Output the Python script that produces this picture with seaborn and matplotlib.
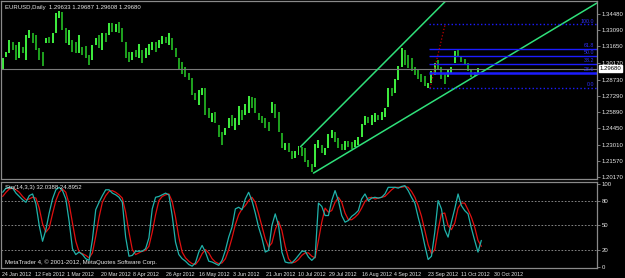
import numpy as np
import pandas as pd
import matplotlib
matplotlib.use("Agg")
import matplotlib.pyplot as plt
import seaborn as sns

# ---------------- data ----------------
opens = [1.2956, 1.3071, 1.3106, 1.3202, 1.3176, 1.3062, 1.3158, 1.3044, 1.3237, 1.3281,
         1.3264, 1.3150, 1.3114, 1.3193, 1.3246, 1.3193, 1.3281, 1.3413, 1.3466, 1.3325,
         1.3176, 1.3220, 1.3202, 1.3106, 1.3158, 1.3167, 1.3088, 1.3044, 1.3176, 1.3264,
         1.3132, 1.3281, 1.3264, 1.3369, 1.3290, 1.3378, 1.3325, 1.3202, 1.3114, 1.3044,
         1.3132, 1.3062, 1.3132, 1.3062, 1.3088, 1.3132, 1.3202, 1.3150, 1.3185, 1.3246,
         1.3176, 1.3237, 1.3150, 1.3062, 1.3027, 1.2983, 1.2930, 1.2886, 1.2754, 1.2649,
         1.2737, 1.2798, 1.2623, 1.2500, 1.2588, 1.2474, 1.2412, 1.2386, 1.2447, 1.2561,
         1.2430, 1.2474, 1.2605, 1.2561, 1.2579, 1.2719, 1.2711, 1.2579, 1.2553, 1.2535,
         1.2500, 1.2579, 1.2658, 1.2588, 1.2403, 1.2254, 1.2315, 1.2245, 1.2184, 1.2210,
         1.2280, 1.2271, 1.2166, 1.2131, 1.2105, 1.2271, 1.2298, 1.2210, 1.2271, 1.2359,
         1.2412, 1.2359, 1.2307, 1.2254, 1.2333, 1.2324, 1.2280, 1.2298, 1.2368, 1.2474,
         1.2544, 1.2474, 1.2500, 1.2561, 1.2517, 1.2544, 1.2632, 1.2798, 1.2754, 1.2869,
         1.2983, 1.3132, 1.3088, 1.3062, 1.2983, 1.2956, 1.2921, 1.2904, 1.2798, 1.2842,
         1.2912, 1.3044, 1.2983, 1.2930, 1.2895, 1.2930, 1.3018, 1.3132, 1.3071, 1.3053,
         1.3018, 1.2956, 1.2939, 1.2912, 1.2963]
closes = [1.3062, 1.3114, 1.3220, 1.3132, 1.3044, 1.3202, 1.3106, 1.3264, 1.3308, 1.3193,
          1.3132, 1.3044, 1.2992, 1.3237, 1.3193, 1.3281, 1.3457, 1.3474, 1.3308, 1.3193,
          1.3308, 1.3114, 1.3106, 1.3264, 1.3088, 1.3062, 1.3000, 1.3176, 1.3237, 1.3150,
          1.3281, 1.3202, 1.3369, 1.3290, 1.3360, 1.3281, 1.3202, 1.3062, 1.3027, 1.3114,
          1.3071, 1.3185, 1.3018, 1.3150, 1.3185, 1.3202, 1.3114, 1.3220, 1.3255, 1.3193,
          1.3281, 1.3132, 1.3071, 1.2956, 1.2921, 1.2895, 1.2869, 1.2737, 1.2693, 1.2781,
          1.2798, 1.2561, 1.2535, 1.2579, 1.2491, 1.2368, 1.2298, 1.2447, 1.2535, 1.2465,
          1.2535, 1.2640, 1.2517, 1.2658, 1.2728, 1.2623, 1.2579, 1.2517, 1.2491, 1.2447,
          1.2421, 1.2675, 1.2535, 1.2412, 1.2271, 1.2315, 1.2236, 1.2175, 1.2245, 1.2289,
          1.2201, 1.2149, 1.2105, 1.2061, 1.2307, 1.2342, 1.2228, 1.2271, 1.2394, 1.2430,
          1.2324, 1.2271, 1.2254, 1.2333, 1.2280, 1.2263, 1.2342, 1.2368, 1.2482, 1.2553,
          1.2491, 1.2561, 1.2579, 1.2517, 1.2588, 1.2623, 1.2798, 1.2728, 1.2877, 1.2992,
          1.3150, 1.3000, 1.2974, 1.2948, 1.2912, 1.2877, 1.2851, 1.2816, 1.2842, 1.2948,
          1.3018, 1.2956, 1.2877, 1.2833, 1.2965, 1.2983, 1.3123, 1.3071, 1.3027, 1.3009,
          1.2948, 1.2895, 1.2904, 1.2974, 1.2968]

sto_main = [90, 95, 96, 95, 89, 85, 81, 78, 86, 88, 76, 50, 31, 45, 65, 82, 93, 96, 92, 82,
            55, 22, 15, 18, 15, 10, 8, 33, 69, 78, 86, 93, 93, 89, 87, 84, 78, 36, 13, 14,
            19, 19, 19, 22, 35, 70, 84, 85, 87, 89, 87, 62, 30, 15, 10, 7, 3, 1, 5, 18,
            26, 18, 7, 6, 4, 2, 8, 20, 36, 48, 70, 72, 69, 82, 90, 80, 65, 48, 35, 18,
            20, 50, 64, 50, 18, 6, 5, 5, 9, 14, 19, 19, 12, 8, 12, 77, 73, 62, 62, 80,
            92, 80, 62, 54, 56, 61, 64, 68, 82, 88, 80, 83, 84, 83, 84, 88, 96, 96, 96, 95,
            97, 98, 92, 84, 77, 60, 45, 26, 9, 13, 42, 80, 70, 45, 36, 54, 70, 88, 74, 68,
            64, 47, 32, 18, 32.04]
sto_signal = [85, 90, 94, 95, 93, 90, 85, 81, 82, 84, 83, 71, 52, 42, 47, 64, 80, 90, 94, 90,
              76, 53, 31, 18, 16, 14, 11, 17, 37, 60, 78, 86, 91, 92, 90, 87, 83, 66, 42, 21,
              15, 17, 19, 20, 25, 42, 63, 80, 85, 87, 88, 79, 60, 36, 18, 11, 7, 4, 3, 8,
              16, 21, 17, 10, 6, 4, 5, 10, 21, 35, 51, 63, 70, 74, 80, 84, 78, 64, 49, 34,
              24, 29, 45, 55, 44, 25, 10, 5, 6, 9, 14, 17, 17, 13, 11, 32, 54, 71, 66, 68,
              78, 84, 78, 65, 57, 57, 60, 64, 71, 79, 83, 84, 82, 83, 84, 85, 89, 93, 96, 96,
              96, 97, 96, 91, 84, 74, 61, 44, 27, 16, 21, 45, 64, 65, 50, 45, 53, 71, 77, 77,
              69, 60, 48, 32, 24.90]

price_ticks = [1.34480, 1.33090, 1.31650, 1.30170, 1.28730, 1.27290,
               1.25890, 1.24450, 1.23010, 1.21570, 1.20170]
sto_ticks = [100, 80, 50, 20, 0]
sto_levels = [80, 50, 20]
date_labels = ["24 Jan 2012", "12 Feb 2012", "1 Mar 2012", "20 Mar 2012", "8 Apr 2012",
               "26 Apr 2012", "16 May 2012", "3 Jun 2012", "21 Jun 2012", "10 Jul 2012",
               "29 Jul 2012", "16 Aug 2012", "4 Sep 2012", "23 Sep 2012", "11 Oct 2012",
               "30 Oct 2012"]
date_pos = [-0.2, 9.7, 19.3, 29.5, 39.1, 49.0, 59.0, 69.2, 79.1, 88.7,
            98.3, 108.2, 117.8, 128.0, 137.9, 147.8]

# drawing objects (anchor points in bar index / price)
lower_trend_x = [93.5, 180.3]
lower_trend_p = [1.2052, 1.3571]
upper_trend_x = [89.6, 133.6]
upper_trend_p = [1.2283, 1.3571]
fib_start = 128.3
fib_diag_x = [128.6, 133.1]
fib_diag_p = [1.2798, 1.3358]
fib_levels = [0.0, 23.6, 38.2, 50.0, 61.8, 100.0]
fib_prices = [1.2801, 1.2932, 1.3013, 1.3079, 1.3144, 1.3358]
last_price = 1.29680

# ---------------- style ----------------
sns.set_theme(style="dark", rc={"axes.facecolor": "black", "figure.facecolor": "black"})
plt.rcParams["font.family"] = ["Liberation Sans", "DejaVu Sans"]

W, H = 625, 278
fig = plt.figure(figsize=(W / 100, H / 100), dpi=100)
left = 1 / W
right_edge = 597 / W
ax = fig.add_axes([left, 1 - 179 / H, right_edge - left, 178 / H])
ax2 = fig.add_axes([left, 1 - 268 / H, right_edge - left, 86 / H])

xlim = (-0.5, 178.8)
grey = "#8a8a8a"
txt = "#e8e8e8"
fs = 4.3

n = len(opens)
idx = np.arange(n)
o = np.array(opens)
c = np.array(closes)
up = c >= o
col_up = "#3de83d"
col_dn = "#1e9e1e"
bottoms = np.minimum(o, c)
heights = np.maximum(np.abs(c - o), 0.0006)
ax.bar(idx[up], heights[up], bottom=bottoms[up], width=0.6, color=col_up, linewidth=0)
ax.bar(idx[~up], heights[~up], bottom=bottoms[~up], width=0.6, color=col_dn, linewidth=0)

# current price line
ax.axhline(last_price, color="#7a7a7a", lw=0.8)

# trend lines
tl = pd.DataFrame({"x": lower_trend_x, "p": lower_trend_p})
tu = pd.DataFrame({"x": upper_trend_x, "p": upper_trend_p})
sns.lineplot(data=tl, x="x", y="p", ax=ax, color="#2fe07a", lw=1.1)
sns.lineplot(data=tu, x="x", y="p", ax=ax, color="#2fe07a", lw=1.1)

# fibonacci
for lvl, pr in zip(fib_levels, fib_prices):
    dotted = lvl in (0.0, 100.0)
    ax.hlines(pr, fib_start, xlim[1], color="#1c1cff",
              lw=1.0 if not lvl == 23.6 else 1.8, linestyles=":" if dotted else "-")
    ax.text(xlim[1] - 0.8, pr + 0.0006, f"{lvl:.1f}", color="#3030ff", fontsize=3.8,
            ha="right", va="bottom")
ax.plot(fib_diag_x, fib_diag_p, color="#c00000", lw=0.9, ls=":")

ax.set_xlim(*xlim)
ax.set_ylim(1.2000, 1.3562)
ax.set_xticks([])
ax.yaxis.tick_right()
ax.set_yticks(price_ticks)
ax.set_yticklabels([f"{t:.5f}" for t in price_ticks])
ax.tick_params(axis="y", colors=grey, labelcolor=txt, labelsize=fs, length=2, width=0.6, pad=1.2)
ax.set_xlabel("")
ax.set_ylabel("")
for s in ax.spines.values():
    s.set_color(grey)
    s.set_linewidth(0.9)

ax.text(0.006, 0.975, "EURUSD,Daily  1.29633 1.29687 1.29608 1.29680", transform=ax.transAxes,
        color=txt, fontsize=fs, ha="left", va="top")
ax.text(1.004, last_price, "1.29680", transform=ax.get_yaxis_transform(), color="black",
        fontsize=fs, ha="left", va="center",
        bbox=dict(boxstyle="square,pad=0.12", fc="white", ec="white"))

# ---------------- stochastic ----------------
sdf = pd.DataFrame({"i": idx, "main": sto_main, "signal": sto_signal})
for lv in sto_levels:
    ax2.axhline(lv, color="#9a9a9a", lw=0.6, ls=(0, (2, 2)))
sns.lineplot(data=sdf, x="i", y="signal", ax=ax2, color="#e01010", lw=0.9)
sns.lineplot(data=sdf, x="i", y="main", ax=ax2, color="#20b2aa", lw=0.9)
ax2.set_xlim(*xlim)
ax2.set_ylim(-1.2, 102.4)
ax2.yaxis.tick_right()
ax2.set_yticks(sto_ticks)
ax2.set_yticklabels([str(t) for t in sto_ticks])
ax2.tick_params(axis="y", colors=grey, labelcolor=txt, labelsize=fs, length=2, width=0.6, pad=1.2)
ax2.set_xticks(date_pos)
ax2.set_xticklabels(date_labels, ha="left")
ax2.tick_params(axis="x", colors=grey, labelcolor=txt, labelsize=3.8, length=2, width=0.6, pad=0.8)
ax2.set_xlabel("")
ax2.set_ylabel("")
for s in ax2.spines.values():
    s.set_color(grey)
    s.set_linewidth(0.9)
ax2.text(0.006, 0.96, "Sto(14,3,3) 32.0388 24.8952", transform=ax2.transAxes,
         color=txt, fontsize=fs, ha="left", va="top")
ax2.text(0.006, 0.03, "MetaTrader 4, \u00a9 2001-2012, MetaQuotes Software Corp.",
         transform=ax2.transAxes, color=txt, fontsize=fs, ha="left", va="bottom")

fig.savefig("out.png", dpi=100, facecolor="black")
